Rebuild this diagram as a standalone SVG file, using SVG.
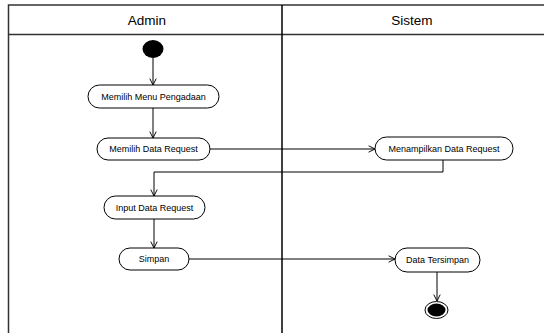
<svg xmlns="http://www.w3.org/2000/svg" width="544" height="333" viewBox="0 0 544 333">
<defs>
<style>
.lane{fill:none;stroke:#333;stroke-width:1.5}
.node rect{fill:#fff;stroke:#000;stroke-width:1}
.node text{font-family:"Liberation Sans",Arial,sans-serif;font-size:9px;fill:#000;text-anchor:middle}
.hdr{font-family:"Liberation Sans",Arial,sans-serif;font-size:13.5px;fill:#000;text-anchor:middle}
.edge{fill:none;stroke:#000;stroke-width:1;marker-end:url(#arr)}
</style>
<marker id="arr" viewBox="0 0 10 10" refX="9" refY="5" markerWidth="8" markerHeight="8" markerUnits="userSpaceOnUse" orient="auto">
<polyline points="1,1 9,5 1,9" fill="none" stroke="#000" stroke-width="1.2"/>
</marker>
</defs>
<rect width="544" height="333" fill="#fff"/>
<g id="swimlanes">
<path class="lane" d="M8.5,333 V5 H544"/>
<path class="lane" d="M8.5,34.5 H544" stroke="#777"/>
<path d="M282,5 V333" fill="none" stroke="#000" stroke-width="1.5"/>
<text class="hdr" x="147" y="25">Admin</text>
<text class="hdr" x="412" y="25">Sistem</text>
</g>
<g id="connectors">
<path class="edge" d="M153,58 V85"/>
<path class="edge" d="M153,108 V138"/>
<path class="edge" d="M210,149 H375"/>
<path class="edge" d="M443,160 V172 H154 V196"/>
<path class="edge" d="M154,219 V248"/>
<path class="edge" d="M189,259 H395"/>
<path class="edge" d="M437,272 V301"/>
</g>
<g id="start"><ellipse cx="153" cy="49" rx="10.5" ry="9" fill="#000"/></g>
<g id="n1" class="node"><rect x="88" y="85" width="131" height="23" rx="11.5"/><text x="153.5" y="99.5">Memilih Menu Pengadaan</text></g>
<g id="n2" class="node"><rect x="97" y="138" width="113" height="22" rx="11"/><text x="153.5" y="152">Memilih Data Request</text></g>
<g id="n3" class="node"><rect x="375" y="137" width="138" height="23" rx="11.5"/><text x="444" y="151.5">Menampilkan Data Request</text></g>
<g id="n4" class="node"><rect x="104" y="196" width="101" height="23" rx="11.5"/><text x="154.5" y="210.5">Input Data Request</text></g>
<g id="n5" class="node"><rect x="119" y="248" width="70" height="22" rx="11"/><text x="154" y="262">Simpan</text></g>
<g id="n6" class="node"><rect x="395" y="248" width="85" height="24" rx="12"/><text x="437.5" y="263">Data Tersimpan</text></g>
<g id="end"><ellipse cx="436.5" cy="310" rx="11.5" ry="8.5" fill="#fff" stroke="#000" stroke-width="1"/><ellipse cx="436.5" cy="310" rx="9" ry="6.5" fill="#000"/></g>
</svg>
